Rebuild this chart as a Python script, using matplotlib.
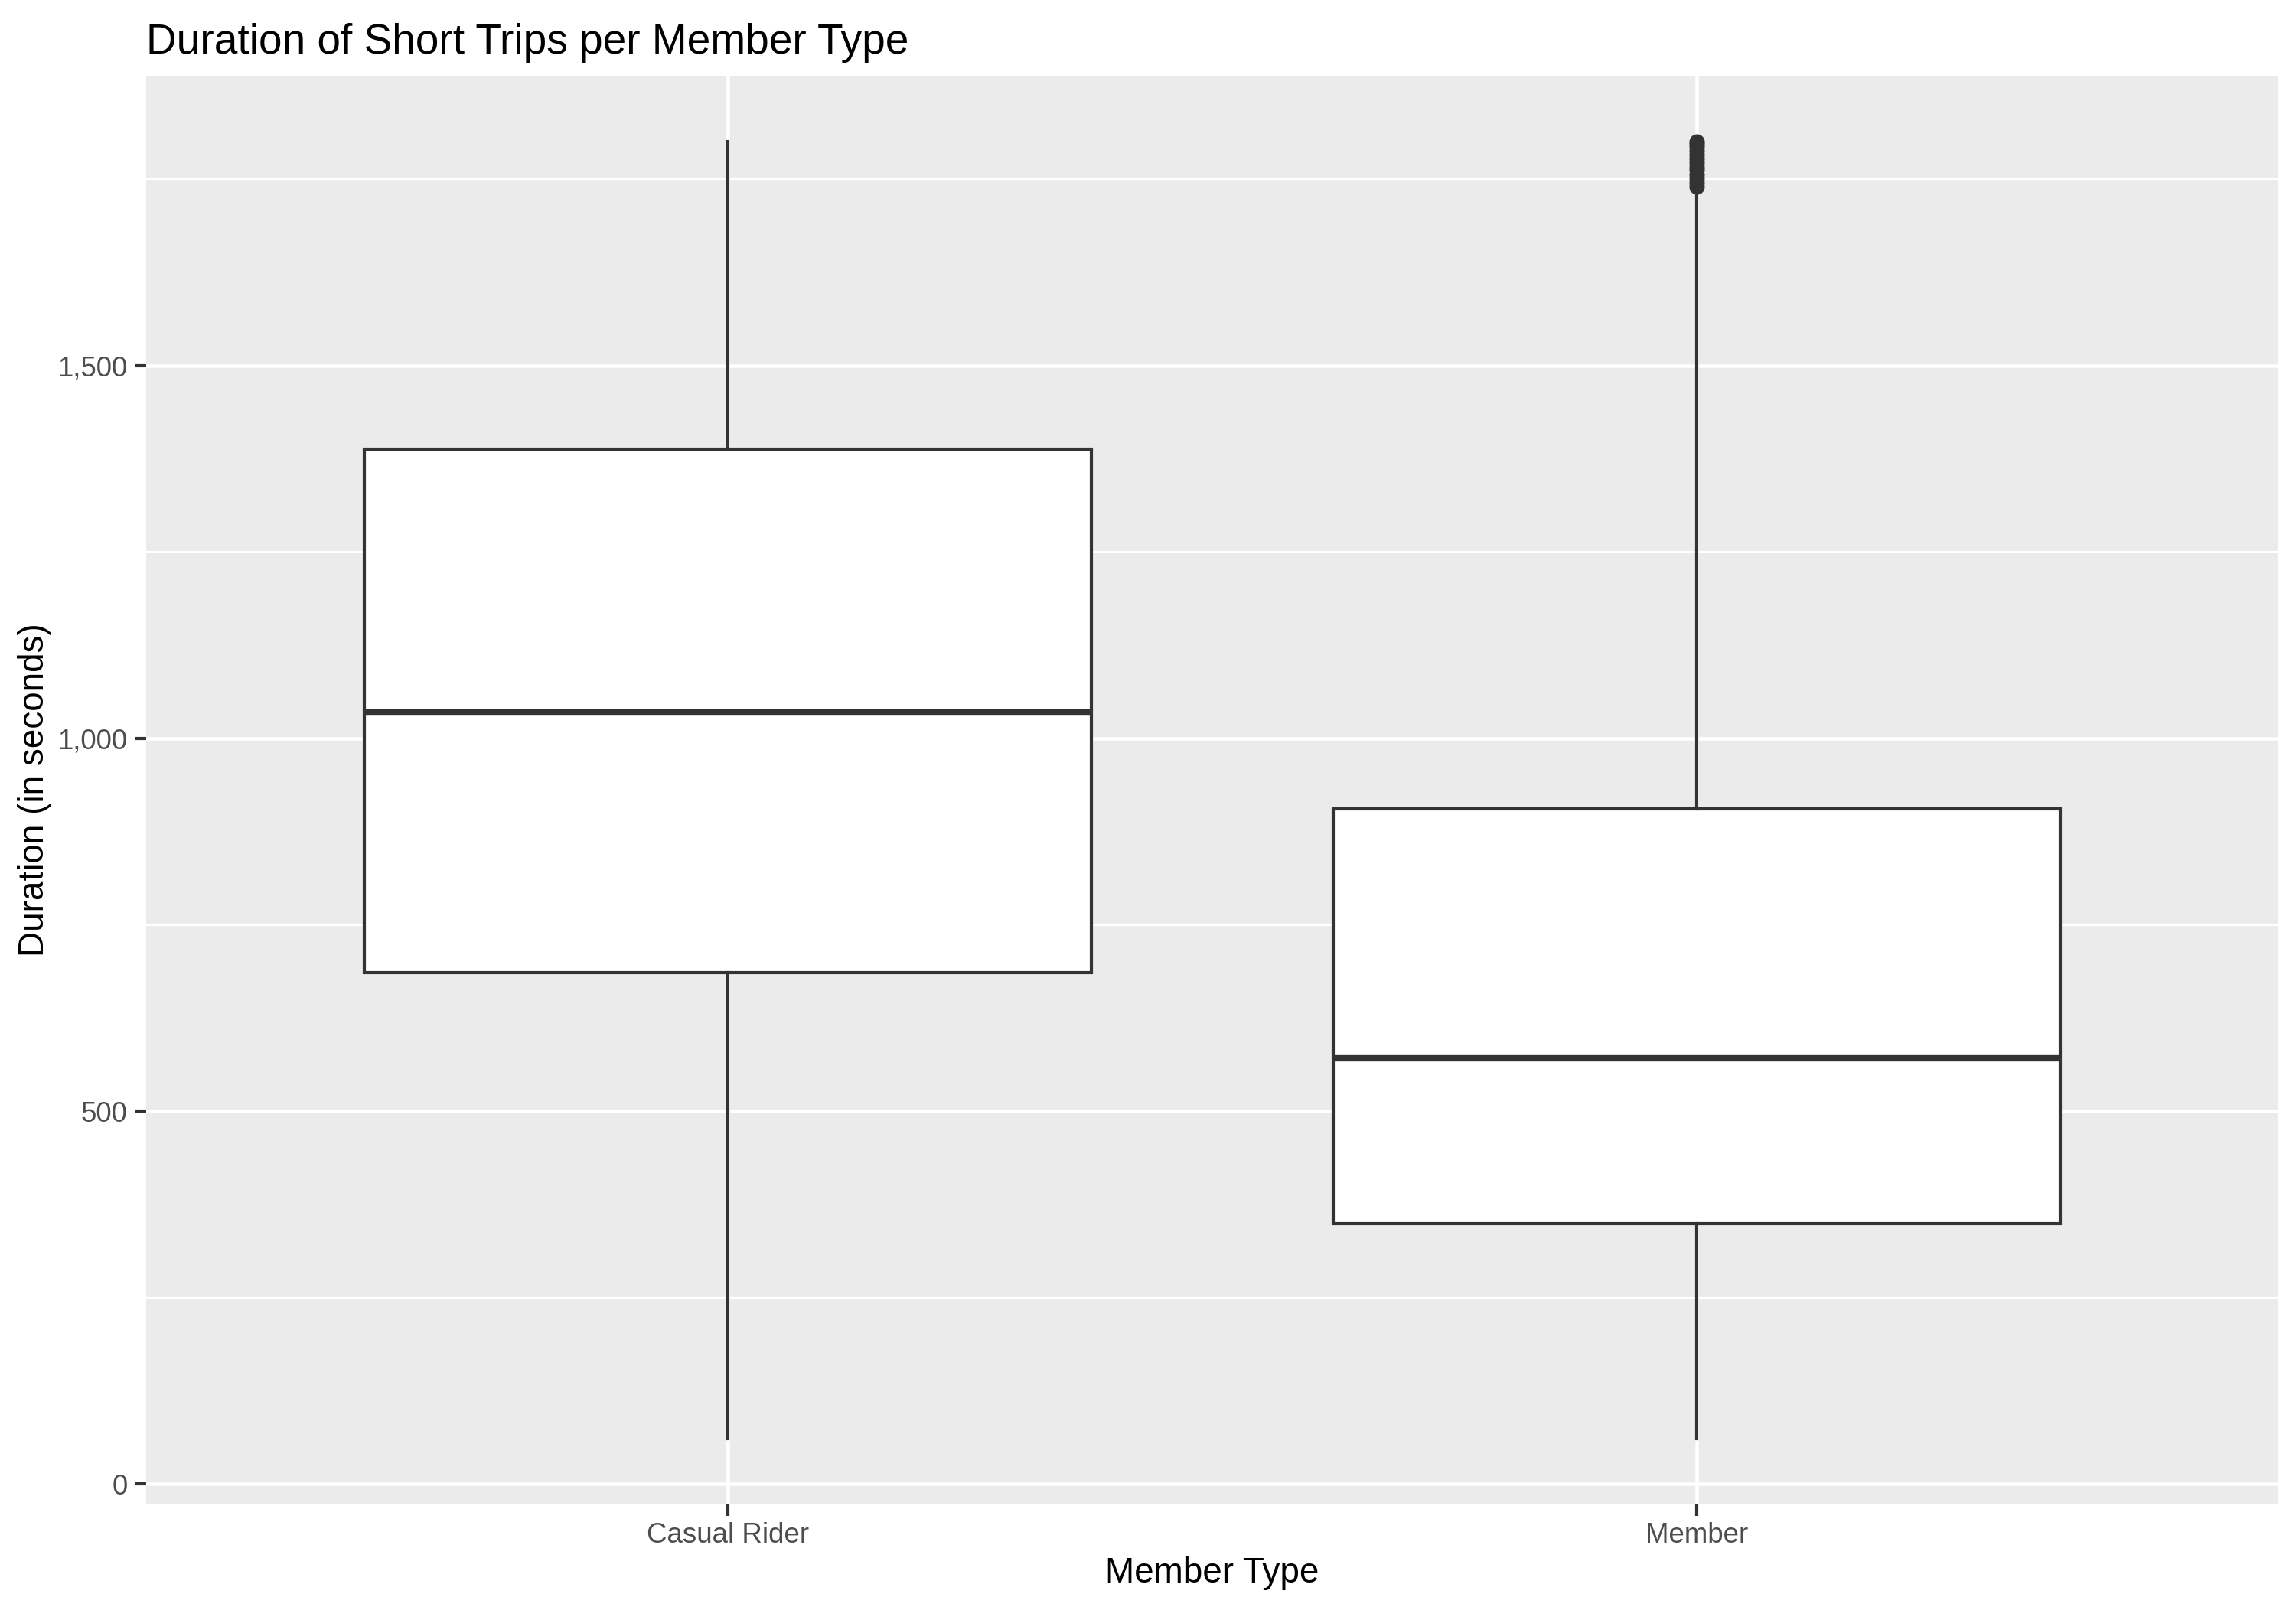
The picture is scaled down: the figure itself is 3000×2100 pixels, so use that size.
import matplotlib.pyplot as plt
from matplotlib.ticker import FuncFormatter, FixedLocator

plt.rcParams['font.family'] = ['Liberation Sans', 'DejaVu Sans']

# ── Data (box statistics, seconds) ───────────────────────────────
categories = ['Casual Rider', 'Member']
whisker_lo = [61, 61]
q1 = [686, 349]
median = [1035, 571]
q3 = [1388, 906]
whisker_hi = [1800, 1736]
outliers_casual = []
outliers_member = [1740, 1745, 1751, 1756, 1762, 1767, 1773, 1778,
                   1783, 1788, 1793, 1797, 1800]

stats = []
for i, name in enumerate(categories):
    stats.append(dict(label=name, whislo=whisker_lo[i], q1=q1[i], med=median[i],
                      q3=q3[i], whishi=whisker_hi[i],
                      fliers=[outliers_casual, outliers_member][i]))

fig = plt.figure(figsize=(10, 7), dpi=300)
ax = fig.add_axes([0.0638, 0.064, 0.9285, 0.889])
ax.set_facecolor('#EBEBEB')
for s in ax.spines.values():
    s.set_visible(False)

LC = '#333333'
ax.bxp(stats, positions=[1, 2], widths=0.75, patch_artist=True,
       showcaps=False,
       boxprops=dict(facecolor='white', edgecolor=LC, linewidth=1.0),
       medianprops=dict(color=LC, linewidth=2.0),
       whiskerprops=dict(color=LC, linewidth=1.0),
       flierprops=dict(marker='o', markersize=3.8, markerfacecolor=LC,
                       markeredgecolor=LC, linestyle='none'),
       zorder=3)

ax.set_xlim(0.4, 2.6)
ax.set_ylim(-27, 1889)
ax.yaxis.set_major_locator(FixedLocator([0, 500, 1000, 1500]))
ax.yaxis.set_minor_locator(FixedLocator([250, 750, 1250, 1750]))
ax.yaxis.set_major_formatter(FuncFormatter(lambda v, p: f'{int(v):,}'))
ax.set_xticks([1, 2])
ax.set_xticklabels(categories)

ax.grid(True, which='major', color='white', linewidth=1.1, zorder=0)
ax.grid(True, which='minor', axis='y', color='white', linewidth=0.55, zorder=0)
ax.set_axisbelow(True)

ax.tick_params(axis='both', which='major', length=3.5, width=1.0, color=LC,
               labelsize=8.8, labelcolor='#4D4D4D', pad=2.5)
ax.tick_params(axis='x', which='major', pad=2)
ax.tick_params(axis='y', which='minor', length=0)

ax.set_xlabel('Member Type', fontsize=11, color='black', labelpad=2.5)
ax.set_ylabel('Duration (in seconds)', fontsize=11, color='black', labelpad=2)
ax.set_title('Duration of Short Trips per Member Type', fontsize=13.2,
             loc='left', color='black', pad=7)

fig.savefig('out.png', dpi=300, facecolor='white')
